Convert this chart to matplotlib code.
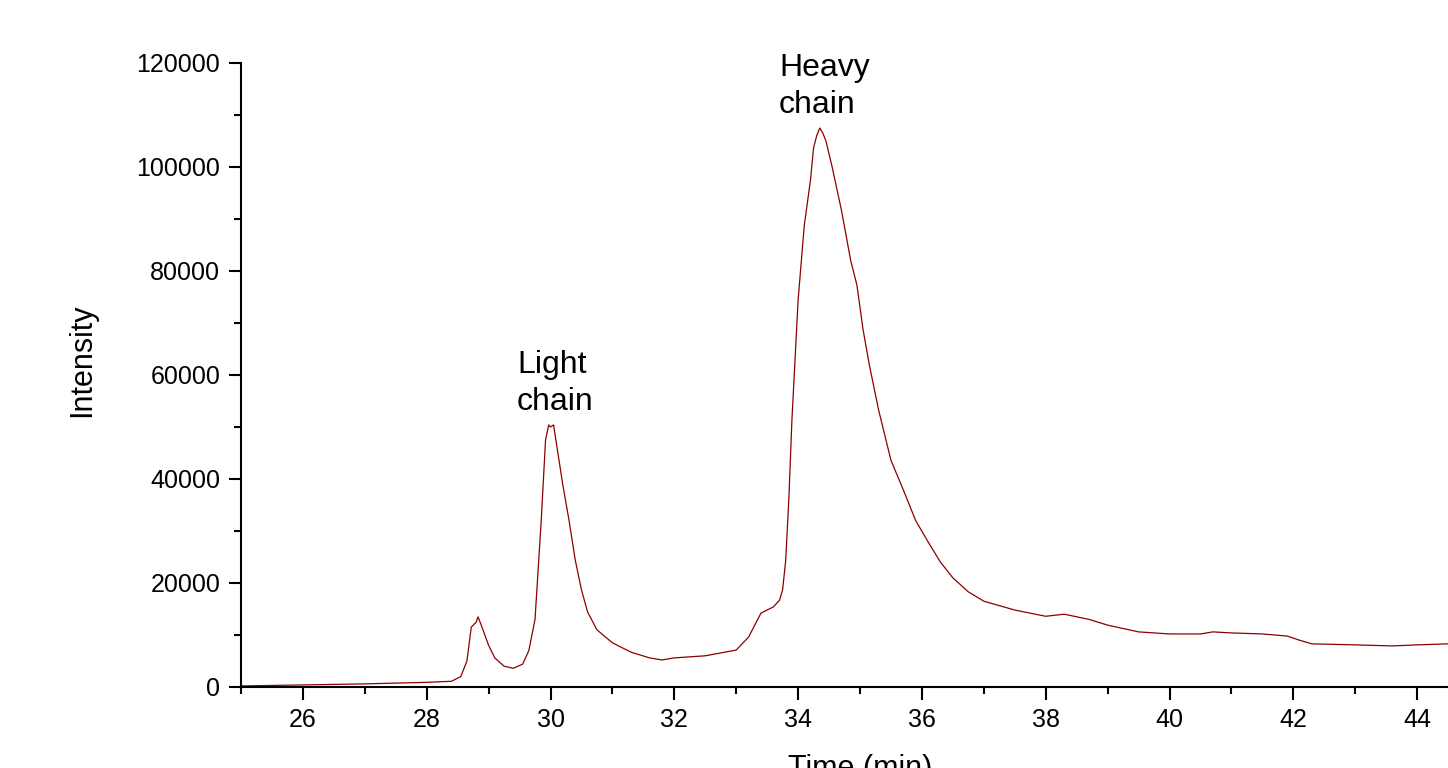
import matplotlib
matplotlib.use("Agg")
import matplotlib.pyplot as plt
from matplotlib.ticker import MultipleLocator

plt.rcParams['font.family'] = ['Liberation Sans', 'DejaVu Sans']

time_min = [25.0, 26.0, 27.0, 28.0, 28.4, 28.55, 28.65, 28.72, 28.8, 28.83, 28.9, 29.0,
            29.1, 29.25, 29.4, 29.55, 29.65, 29.75, 29.85, 29.92, 29.97, 30.0, 30.05,
            30.1, 30.2, 30.3, 30.4, 30.5, 30.6, 30.75, 31.0, 31.3, 31.6, 31.8, 32.0,
            32.5, 33.0, 33.2, 33.4, 33.6, 33.7, 33.75, 33.8, 33.85, 33.9, 34.0, 34.1,
            34.2, 34.25, 34.3, 34.35, 34.4, 34.45, 34.55, 34.7, 34.85, 34.95, 35.05,
            35.15, 35.3, 35.5, 35.7, 35.9, 36.1, 36.3, 36.5, 36.75, 37.0, 37.5, 38.0,
            38.3, 38.7, 39.0, 39.5, 40.0, 40.5, 40.7, 41.0, 41.5, 41.9, 42.1, 42.3,
            43.0, 43.6, 44.0, 44.5, 45.0]
intensity = [200, 400, 600, 900, 1100, 2000, 5000, 11500, 12500, 13500, 11300, 8000,
             5600, 4000, 3600, 4400, 7000, 13000, 32000, 47500, 50400, 50000, 50400,
             46500, 38800, 32000, 24400, 18700, 14400, 11000, 8500, 6700, 5600, 5200, 5600,
             6000, 7100, 9600, 14200, 15400, 16700, 18700, 24400, 36000, 51300, 74400, 88800,
             97500, 103700, 106000, 107500, 106500, 105000, 100000, 91700, 82000, 77300, 68700,
             62000, 53300, 43600, 37900, 32000, 27900, 24000, 21000, 18300, 16500, 14800, 13600,
             14000, 13000, 11900, 10600, 10200, 10200, 10600, 10400, 10200, 9800, 9000, 8300,
             8100, 7900, 8100, 8300, 8300]

annotations = [("Light\nchain", 29.46, 64800), ("Heavy\nchain", 33.69, 121900)]

W, H = 1448, 768
fig = plt.figure(figsize=(W / 100, H / 100), dpi=100)
ax = fig.add_axes([241 / W, (H - 687) / H, 1238 / W, 624 / H])
ax.plot(time_min, intensity, color='#8B0000', lw=0.9)
ax.set_xlim(25, 45)
ax.set_ylim(0, 120000)
ax.set_xticks(list(range(26, 45, 2)))
ax.xaxis.set_minor_locator(MultipleLocator(1))
ax.yaxis.set_major_locator(MultipleLocator(20000))
ax.yaxis.set_minor_locator(MultipleLocator(10000))
for s in ['top', 'right']:
    ax.spines[s].set_visible(False)
for s in ['left', 'bottom']:
    ax.spines[s].set_linewidth(1.5)
ax.tick_params(which='major', length=9, width=1.5, labelsize=18, pad=6)
ax.tick_params(which='minor', length=5, width=1.5)

for txt, x, y in annotations:
    ax.text(x, y, txt, fontsize=23, ha='left', va='top', multialignment='left',
            linespacing=1.3, clip_on=False)

fig.text(82 / W, 1 - 360 / H, 'Intensity', rotation=90, ha='center', va='center', fontsize=22)
fig.text(860 / W, 1 - 754 / H, 'Time (min)', ha='center', va='top', fontsize=22)

fig.savefig('out.png', dpi=100)
